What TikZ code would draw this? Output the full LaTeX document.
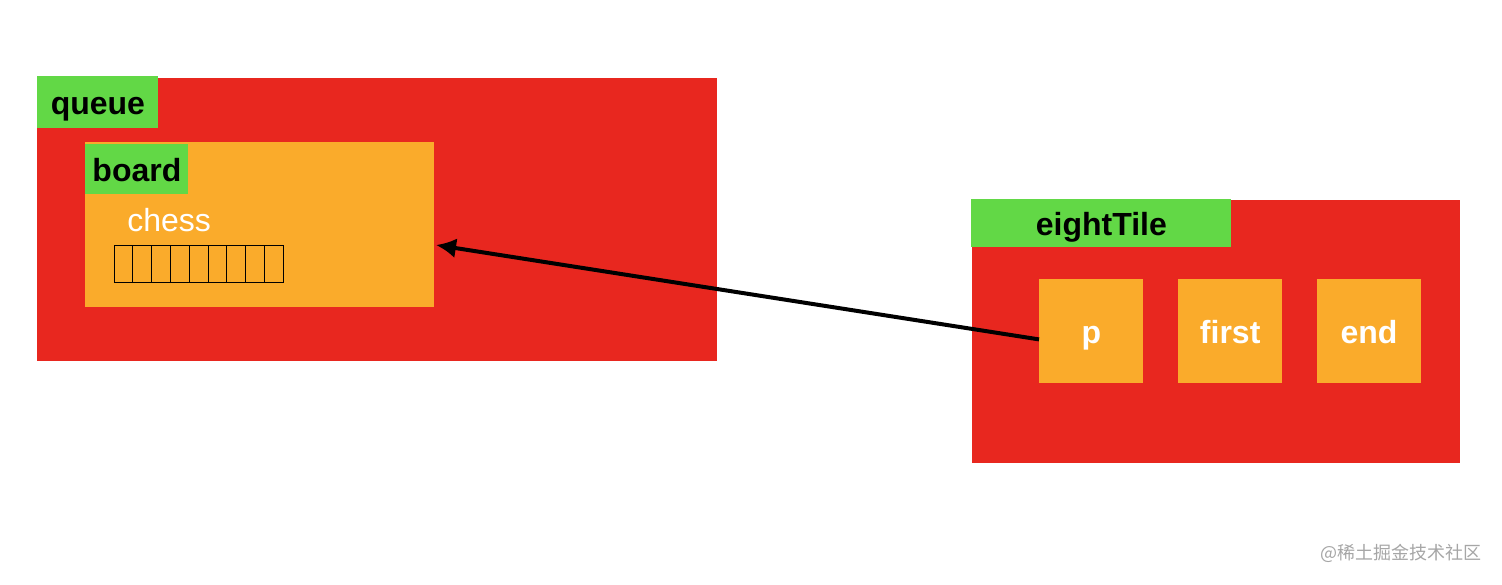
\documentclass[tikz,border=0pt]{standalone}
\usepackage{fontspec}
\setmainfont{Liberation Sans}
\newfontfamily\cjk{Noto Sans CJK SC}
\usetikzlibrary{positioning,arrows.meta}
\definecolor{boxred}{HTML}{E8271F}
\definecolor{tagreen}{HTML}{62D846}
\definecolor{slotorange}{HTML}{FAAB2B}
\begin{document}
\begin{tikzpicture}[x=0.5pt,y=-0.5pt,
  tag/.style={fill=tagreen,inner sep=0,anchor=north west,text height=12pt,text depth=0pt,font=\fontsize{16}{19}\selectfont\bfseries},
  slot/.style={fill=slotorange,inner sep=0,minimum width=52pt,minimum height=52pt,anchor=north west,text height=12pt,text depth=0pt,text=white,font=\fontsize{16}{19}\selectfont\bfseries}]
 \useasboundingbox[fill=white] (0,0) rectangle (1502,584);
 \node[fill=boxred,inner sep=0,minimum width=340pt,minimum height=141.5pt,anchor=north west] (queue) at (37,78) {};
 \node[tag,minimum width=60.5pt,minimum height=26pt] (queuetag) at (37,76) {queue};
 \node[fill=slotorange,inner sep=0,minimum width=174.5pt,minimum height=82.5pt,anchor=north west] (board) at (85,142) {};
 \node[tag,minimum width=51.5pt,minimum height=25pt] (boardtag) at (85,144) {board};
 \node[text=white,inner sep=0,anchor=base west,font=\fontsize{16}{19}\selectfont] (chess) at (127,231) {chess};
 \foreach \i in {0,...,8}
     \draw[line width=0.5pt] (114+\i*18.8,245) rectangle ++(18.8,37);
 \node[fill=boxred,inner sep=0,minimum width=244pt,minimum height=131.5pt,anchor=north west] (eight) at (972,200) {};
 \node[tag,minimum width=130pt,minimum height=24pt] (eighttag) at (971,199) {eightTile};
 \node[slot] (p) at (1039,279) {p};
 \node[slot,right=17pt of p] (first) {first};
 \node[slot,right=17pt of first] (end) {end};
 \coordinate (boardin) at (436,245);
 \draw[-{Latex[length=10pt,width=10pt]},line width=2pt] ([yshift=-4pt]p.west) -- (boardin);
 \node[anchor=east,inner sep=0,text=black!35,font=\cjk\fontsize{9}{11}\selectfont] (mark) at (1482,553) {@稀土掘金技术社区};
\end{tikzpicture}
\end{document}
